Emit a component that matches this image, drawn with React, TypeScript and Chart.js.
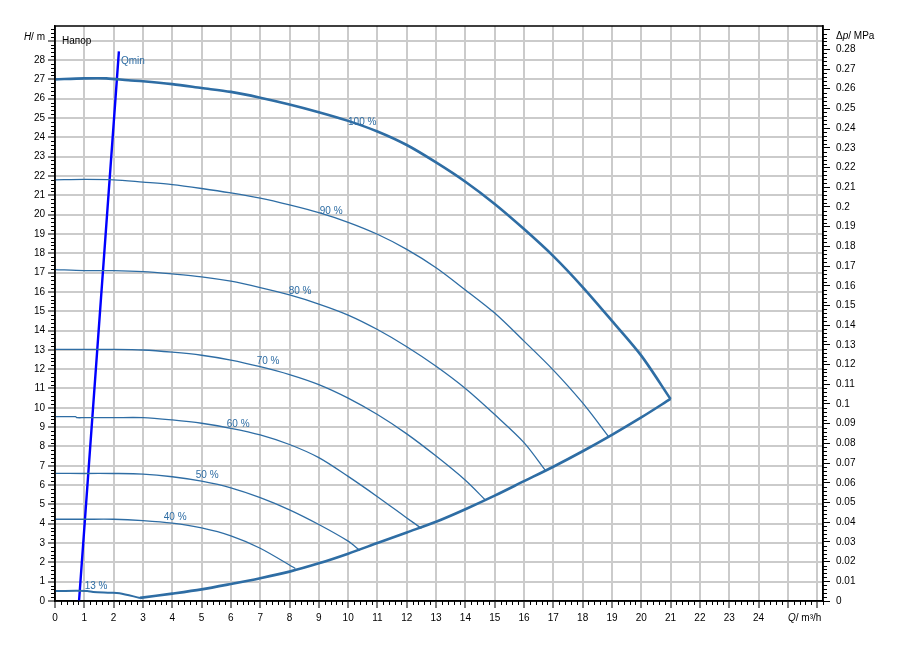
import React, { useEffect, useRef } from 'react';
import { Chart, registerables } from 'chart.js';

Chart.register(...registerables);

const FONT = '"Liberation Sans", Arial, sans-serif';
const CURVE = '#2e6da4';
const QMIN_COLOR = '#0000ff';

const Q_MAX = 26.2;
const H_MAX = 29.76;
const MPA_PER_M = 0.00980665;

// 100 % speed curve
const q100 = [0, 1, 1.75, 2.5, 3, 4, 5, 6, 7, 8, 9, 10, 11, 12, 13, 14, 15, 16, 17, 18, 19, 20, 21];
const h100 = [27.0, 27.05, 27.05, 26.95, 26.9, 26.75, 26.55, 26.35, 26.05, 25.7, 25.3, 24.85, 24.3, 23.6, 22.7, 21.7, 20.55, 19.25, 17.85, 16.25, 14.5, 12.7, 10.45];
// 90 %
const q90 = [0, 1, 2, 3, 4, 5, 6, 7, 8, 9, 10, 11, 12, 13, 14, 15, 16, 17, 18, 18.9];
const h90 = [21.8, 21.82, 21.8, 21.68, 21.55, 21.35, 21.12, 20.85, 20.5, 20.1, 19.6, 18.98, 18.2, 17.25, 16.1, 14.9, 13.45, 11.95, 10.25, 8.48];
// 80 %
const q80 = [0, 1, 2, 3, 4, 5, 6, 7, 8, 9, 10, 11, 12, 13, 14, 15, 16, 16.75];
const h80 = [17.15, 17.1, 17.1, 17.05, 16.93, 16.78, 16.55, 16.22, 15.84, 15.37, 14.8, 14.05, 13.16, 12.15, 11.0, 9.65, 8.2, 6.72];
// 70 %
const q70 = [0, 1, 2, 3, 4, 5, 6, 7, 8, 9, 10, 11, 12, 13, 14, 14.7];
const h70 = [13.02, 13.02, 13.02, 12.99, 12.88, 12.72, 12.47, 12.13, 11.72, 11.2, 10.5, 9.65, 8.65, 7.5, 6.25, 5.2];
// 60 %
const q60 = [0, 0.7, 0.75, 1, 2, 3, 4, 5, 6, 7, 8, 9, 10, 11, 12, 12.5];
const h60 = [9.54, 9.54, 9.49, 9.49, 9.49, 9.49, 9.37, 9.2, 8.94, 8.6, 8.1, 7.42, 6.45, 5.4, 4.3, 3.76];
// 50 %
const q50 = [0, 1, 2, 3, 4, 5, 6, 7, 8, 9, 10, 10.4];
const h50 = [6.61, 6.6, 6.6, 6.57, 6.43, 6.2, 5.86, 5.35, 4.72, 3.96, 3.1, 2.62];
// 40 %
const q40 = [0, 1, 2, 3, 4, 5, 6, 7, 8.2];
const h40 = [4.23, 4.23, 4.23, 4.16, 4.03, 3.78, 3.37, 2.73, 1.68];
// 13 %
const q13 = [0, 1.1, 1.3, 1.9, 2.2, 2.9];
const h13 = [0.52, 0.52, 0.47, 0.43, 0.4, 0.16];
// max-power boundary
const qBound = [2.9, 4, 5, 6, 7, 8, 9, 10, 11, 12, 13, 14, 15, 16, 17, 18, 19, 20, 21];
const hBound = [0.16, 0.38, 0.6, 0.88, 1.18, 1.52, 1.95, 2.45, 3.0, 3.55, 4.1, 4.75, 5.45, 6.2, 6.95, 7.75, 8.6, 9.5, 10.46];
// Qmin line
const qMinLine = [0.82, 2.18];
const hMinLine = [0, 28.45];

// curve labels
const labelTexts = ['100 %', '90 %', '80 %', '70 %', '60 %', '50 %', '40 %', '13 %'];
const labelQ = [10.48, 9.42, 8.36, 7.27, 6.25, 5.19, 4.1, 1.4];
const labelH = [24.79, 20.19, 16.05, 12.42, 9.16, 6.52, 4.35, 0.78];
const qminText = 'Qmin';
const qminPos = [2.25, 27.95];

const xTickLabels = ['0', '1', '2', '3', '4', '5', '6', '7', '8', '9', '10', '11', '12', '13', '14', '15', '16', '17', '18', '19', '20', '21', '22', '23', '24'];

const zip = (a: number[], b: number[]) => a.map((v, i) => ({ x: v, y: b[i] }));

function drawMixed(ctx: CanvasRenderingContext2D, parts: [string, boolean][], x: number, y: number, align: 'left' | 'right') {
  let total = 0;
  for (const [t, it] of parts) {
    ctx.font = (it ? 'italic ' : '') + '10px ' + FONT;
    total += ctx.measureText(t).width;
  }
  let cx = align === 'left' ? x : x - total;
  ctx.textAlign = 'left';
  ctx.textBaseline = 'middle';
  for (const [t, it] of parts) {
    ctx.font = (it ? 'italic ' : '') + '10px ' + FONT;
    ctx.fillText(t, cx, y);
    cx += ctx.measureText(t).width;
  }
}

const decorPlugin = {
  id: 'decor',
  afterDatasetsDraw(chart: any) {
    const ctx = chart.ctx as CanvasRenderingContext2D;
    const xs = chart.scales.x;
    const ys = chart.scales.y;
    ctx.save();
    ctx.fillStyle = CURVE;
    ctx.font = '10px ' + FONT;
    ctx.textAlign = 'center';
    ctx.textBaseline = 'middle';
    labelTexts.forEach((t, i) => {
      ctx.fillText(t, xs.getPixelForValue(labelQ[i]), ys.getPixelForValue(labelH[i]));
    });
    ctx.textAlign = 'left';
    ctx.fillText(qminText, xs.getPixelForValue(qminPos[0]), ys.getPixelForValue(qminPos[1]));
    ctx.restore();
  },
  afterDraw(chart: any) {
    const ctx = chart.ctx as CanvasRenderingContext2D;
    const a = chart.chartArea;
    const xs = chart.scales.x;
    const ys = chart.scales.y;
    const y2 = chart.scales.y2;
    ctx.save();
    ctx.strokeStyle = '#000';
    ctx.lineWidth = 1;
    ctx.beginPath();
    for (let i = 0; i <= Math.floor(Q_MAX * 5); i++) {
      if (i % 5 === 0) continue;
      const px = Math.round(xs.getPixelForValue(i / 5)) + 0.5;
      ctx.moveTo(px, a.bottom);
      ctx.lineTo(px, a.bottom + 4);
    }
    for (let i = 0; i <= Math.floor(H_MAX * 5); i++) {
      if (i % 5 === 0) continue;
      const py = Math.round(ys.getPixelForValue(i / 5)) + 0.5;
      ctx.moveTo(a.left, py);
      ctx.lineTo(a.left - 4, py);
    }
    const maxP = H_MAX * MPA_PER_M;
    for (let i = 0; i <= Math.floor(maxP * 500); i++) {
      if (i % 5 === 0) continue;
      const py = Math.round(y2.getPixelForValue(i / 500)) + 0.5;
      ctx.moveTo(a.right, py);
      ctx.lineTo(a.right + 4, py);
    }
    ctx.stroke();
    ctx.lineWidth = 1.5;
    ctx.strokeRect(a.left, a.top, a.right - a.left, a.bottom - a.top);
    ctx.fillStyle = '#000';
    drawMixed(ctx, [['H', true], ['/ m', false]], 45, 37, 'right');
    drawMixed(ctx, [['\u0394', false], ['p', true], ['/ MPa', false]], 836, 36, 'left');
    drawMixed(ctx, [['Q', true], ['/ m\u00b3/h', false]], 788, 618, 'left');
    ctx.font = '10px ' + FONT;
    ctx.textAlign = 'left';
    ctx.textBaseline = 'middle';
    ctx.fillText('\u041d\u0430\u043f\u043e\u0440', 62, 41);
    ctx.restore();
  },
};

export default function App() {
  const ref = useRef<HTMLCanvasElement | null>(null);
  useEffect(() => {
    if (!ref.current) return;
    const line = (q: number[], h: number[], w: number, color = CURVE) => ({
      data: zip(q, h),
      borderColor: color,
      backgroundColor: color,
      borderWidth: w,
      showLine: true,
      pointRadius: 0,
      tension: 0.3,
      yAxisID: 'y',
    });
    const tickFont = { family: FONT, size: 10 };
    const chart = new Chart(ref.current, {
      type: 'scatter',
      data: {
        datasets: [
          line(q100, h100, 2.6),
          line(q90, h90, 1.3),
          line(q80, h80, 1.3),
          line(q70, h70, 1.3),
          line(q60, h60, 1.3),
          line(q50, h50, 1.3),
          line(q40, h40, 1.3),
          line(q13, h13, 2),
          line(qBound, hBound, 2.6),
          line(qMinLine, hMinLine, 2.4, QMIN_COLOR),
        ] as any,
      },
      options: {
        animation: false,
        responsive: false,
        devicePixelRatio: 1,
        layout: { padding: { top: 26, left: 0, right: 0, bottom: 0 } },
        plugins: { legend: { display: false }, tooltip: { enabled: false } },
        scales: {
          x: {
            type: 'linear',
            min: 0,
            max: Q_MAX,
            afterFit: (s: any) => { s.height = 52; },
            border: { color: '#000', width: 1.5 },
            grid: { color: '#cbcbcb', lineWidth: 2, tickColor: '#000', tickWidth: 1, tickLength: 7 },
            ticks: {
              stepSize: 1,
              includeBounds: false,
              autoSkip: false,
              maxRotation: 0,
              padding: 4,
              color: '#000',
              font: tickFont,
              callback: (v: any) => (xTickLabels[Math.round(Number(v))] ?? ''),
            },
          },
          y: {
            type: 'linear',
            position: 'left',
            min: 0,
            max: H_MAX,
            afterFit: (s: any) => { s.width = 55; },
            border: { color: '#000', width: 1.5 },
            grid: { color: '#cbcbcb', lineWidth: 2, tickColor: '#000', tickWidth: 1, tickLength: 7 },
            ticks: {
              stepSize: 1,
              includeBounds: false,
              autoSkip: false,
              padding: 3,
              color: '#000',
              font: tickFont,
              callback: (v: any) => (Number(v) <= 28 ? String(v) : ''),
            },
          },
          y2: {
            type: 'linear',
            position: 'right',
            min: 0,
            max: H_MAX * MPA_PER_M,
            afterFit: (s: any) => { s.width = 76; },
            border: { color: '#000', width: 1.5 },
            grid: { drawOnChartArea: false, tickColor: '#000', tickWidth: 1, tickLength: 7 },
            ticks: {
              stepSize: 0.01,
              includeBounds: false,
              autoSkip: false,
              padding: 6,
              color: '#000',
              font: tickFont,
              callback: (v: any) => (Number(v) <= 0.2805 ? String(+Number(v).toFixed(2)) : ''),
            },
          },
        },
      } as any,
      plugins: [decorPlugin],
    });
    return () => chart.destroy();
  }, []);
  return (
    <div style={{ position: 'absolute', left: 0, top: 0, width: 899, height: 653, background: '#fff' }}>
      <canvas ref={ref} width={899} height={653} />
    </div>
  );
}
